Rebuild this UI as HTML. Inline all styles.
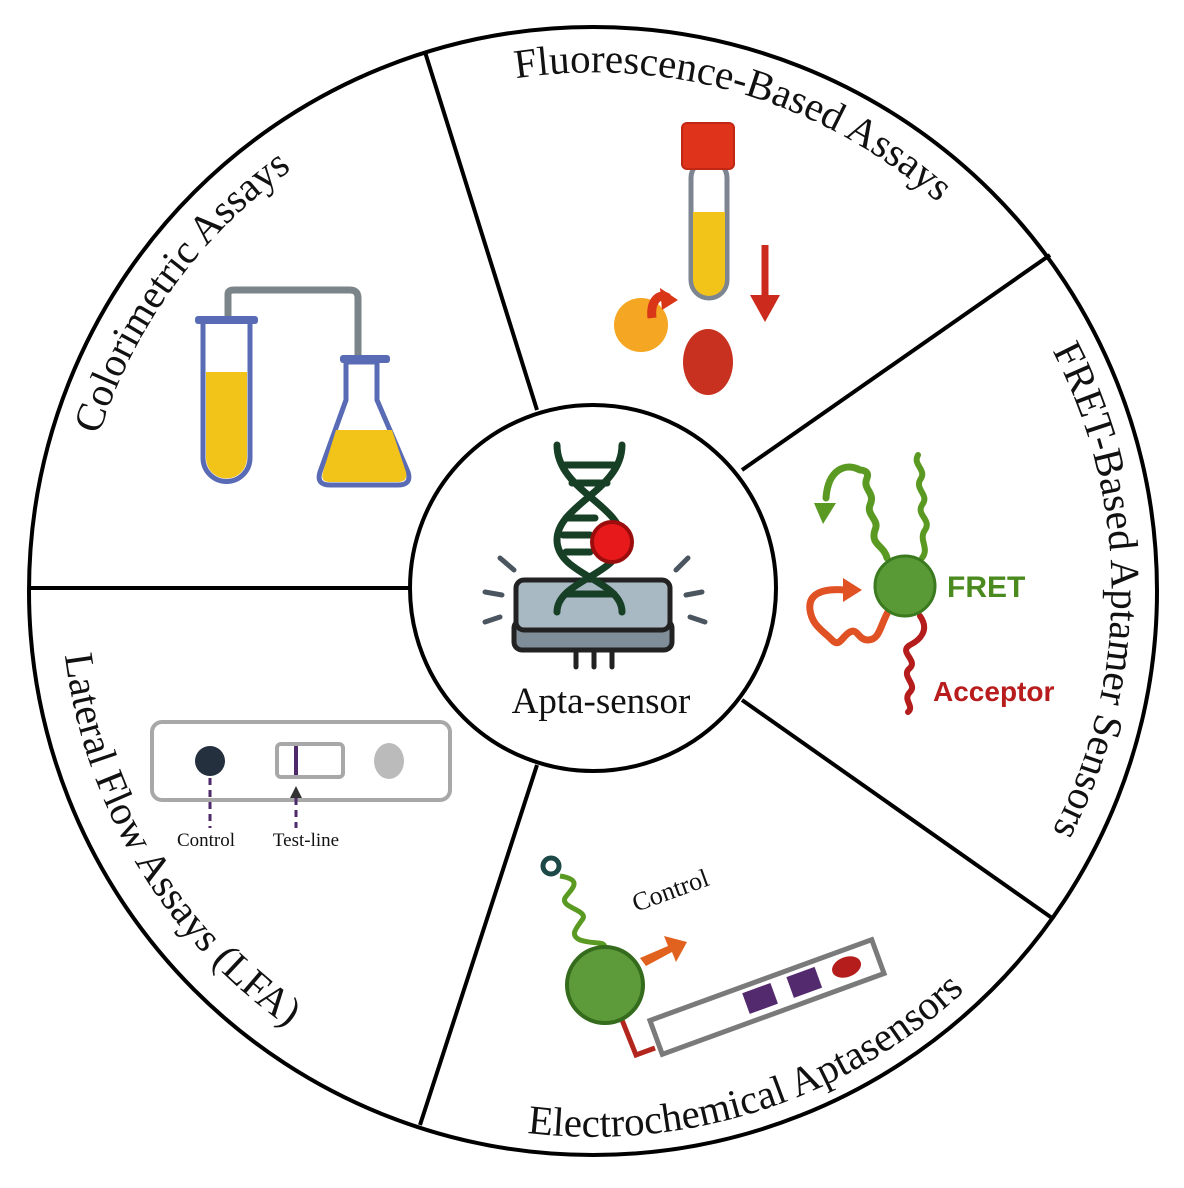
<!DOCTYPE html>
<html><head><meta charset="utf-8"><style>
html,body{margin:0;padding:0;background:#fff;}
svg{display:block;}
.t{font-family:"Liberation Serif",serif;font-size:41px;fill:#111;}
</style></head><body>
<svg width="1184" height="1188" viewBox="0 0 1184 1188" xmlns="http://www.w3.org/2000/svg">
<circle cx="593" cy="591" r="564" fill="#fff" stroke="#000" stroke-width="4"/>
<g stroke="#000" stroke-width="4">
<line x1="425" y1="52" x2="537" y2="410"/>
<line x1="1050" y1="255" x2="742" y2="470"/>
<line x1="1052" y1="918" x2="742" y2="700"/>
<line x1="420" y1="1125" x2="537" y2="765"/>
<line x1="29" y1="588" x2="411" y2="588"/>
</g>
<circle cx="593" cy="588" r="183" fill="#fff" stroke="#000" stroke-width="4"/>

<defs>
<path id="a1" d="M 428.6 99.7 A 518 518 0 0 1 1000 268"/>
<path id="a2" d="M 77.8 536.9 A 518 518 0 0 1 382.3 117.8"/>
<path id="a3" d="M 1000 270 A 518 518 0 0 1 1000 912"/>
<path id="a4" d="M 119 349.5 A 532 532 0 0 0 583.7 1122.9"/>
<path id="a5" d="M 227.7 996.7 A 546 546 0 0 0 1127 704.5"/>
</defs>
<text class="t"><textPath href="#a1" startOffset="50%" text-anchor="middle">Fluorescence-Based Assays</textPath></text>
<text class="t"><textPath href="#a2" startOffset="50%" text-anchor="middle">Colorimetric Assays</textPath></text>
<text class="t"><textPath href="#a3" startOffset="50%" text-anchor="middle">FRET-Based Aptamer Sensors</textPath></text>
<text class="t"><textPath href="#a4" startOffset="50%" text-anchor="middle">Lateral Flow Assays (LFA)</textPath></text>
<text class="t"><textPath href="#a5" startOffset="50%" text-anchor="middle">Electrochemical Aptasensors</textPath></text>

<g stroke-linecap="round">
<g stroke="#4a5560" stroke-width="5">
<line x1="500" y1="558" x2="514" y2="570"/><line x1="485" y1="592" x2="502" y2="595"/><line x1="485" y1="622" x2="500" y2="617"/>
<line x1="688" y1="558" x2="676" y2="570"/><line x1="702" y1="592" x2="686" y2="595"/><line x1="705" y1="622" x2="690" y2="617"/>
</g>
<g stroke="#222" stroke-width="5"><line x1="576" y1="650" x2="576" y2="667"/><line x1="594" y1="650" x2="594" y2="667"/><line x1="612" y1="650" x2="612" y2="667"/></g>
<rect x="514" y="620" width="158" height="30" rx="8" fill="#7f8e99" stroke="#222" stroke-width="5"/>
<rect x="516" y="580" width="154" height="50" rx="8" fill="#a8b9c4" stroke="#222" stroke-width="5"/>
<g fill="none" stroke="#173f25" stroke-width="7">
<path d="M557 445 C557 490 622 505 622 540 C622 575 557 580 557 612"/>
<path d="M622 445 C622 490 557 505 557 540 C557 575 622 580 622 612"/>
<line x1="565" y1="465" x2="614" y2="465"/><line x1="572" y1="483" x2="607" y2="483"/>
<line x1="566" y1="518" x2="595" y2="518"/><line x1="563" y1="535" x2="590" y2="535"/><line x1="566" y1="552" x2="590" y2="552"/>
<line x1="566" y1="594" x2="614" y2="594"/>
</g>
<circle cx="612" cy="542" r="20" fill="#e8191a" stroke="#9b0d0d" stroke-width="4"/>
</g>
<text x="601" y="713" text-anchor="middle" font-family="Liberation Serif,serif" font-size="37" fill="#111">Apta-sensor</text>

<rect x="691" y="160" width="36" height="138" rx="18" fill="#fff" stroke="#7c8590" stroke-width="5"/>
<path d="M693 212 H725 V280 A16 16 0 0 1 693 280 Z" fill="#f2c41a"/>
<rect x="682" y="123" width="52" height="46" rx="5" fill="#e0331c" stroke="#c02814" stroke-width="2"/>
<path d="M765 245 V300" stroke="#cc2a1c" stroke-width="7"/>
<path d="M750 295 L765 322 L780 295 Z" fill="#cc2a1c"/>
<circle cx="641" cy="325" r="27" fill="#f5a623"/>
<path d="M652 318 C650 300 660 292 668 298" stroke="#d93618" stroke-width="9" fill="none"/>
<path d="M660 288 L678 300 L662 310 Z" fill="#d93618"/>
<ellipse cx="708" cy="362" rx="25" ry="33" fill="#c8311f"/>

<path d="M228 318 V294 Q228 290 234 290 H350 Q358 290 358 298 V357" fill="none" stroke="#7b8589" stroke-width="7"/>
<path d="M203 320 H250 V458 A23.5 23.5 0 0 1 203 458 Z" fill="#fff" stroke="#5a6bb5" stroke-width="5"/>
<path d="M206 372 H247 V458 A20.5 20.5 0 0 1 206 458 Z" fill="#f2c41a"/>
<rect x="195" y="316" width="63" height="8" rx="3" fill="#5a6bb5"/>
<path d="M346 362 H377 V400 L408 472 Q412 485 398 485 H330 Q316 485 320 472 L346 400 Z" fill="#fff" stroke="#5a6bb5" stroke-width="5"/>
<path d="M336 430 H392 L406 472 Q408 482 398 482 H330 Q320 482 323 472 Z" fill="#f2c41a"/>
<rect x="340" y="355" width="50" height="8" rx="3" fill="#5a6bb5"/>

<g fill="none" stroke-linecap="round" stroke-linejoin="round">
<path d="M887 558 C884 545 870 545 875 530 C880 520 866 515 870 505 C876 492 862 490 867 478 C870 470 860 470 860 470 C845 462 828 470 826 498" stroke="#5a9a23" stroke-width="7"/>
<path d="M922 558 C930 548 918 540 925 530 C932 520 916 515 922 505 C930 495 915 490 920 480 C928 470 912 465 918 455" stroke="#5a9a23" stroke-width="6"/>
<path d="M889 610 C880 625 880 640 868 640 C858 640 858 628 850 632 C842 636 840 648 832 640 C822 630 812 625 810 610 C808 595 820 588 845 590" stroke="#e05224" stroke-width="7"/>
<path d="M920 616 C930 630 920 640 910 645 C898 652 918 660 910 668 C900 676 918 684 910 692 C902 700 915 706 908 712" stroke="#b51c1c" stroke-width="6"/>
</g>
<path d="M814 503 L836 503 L823 524 Z" fill="#5a9a23"/>
<path d="M843 578 L862 590 L843 602 Z" fill="#e05224"/>
<circle cx="905" cy="586" r="30" fill="#5a9a36" stroke="#3b7a1f" stroke-width="3"/>
<text x="947" y="597" font-family="Liberation Sans,sans-serif" font-weight="bold" font-size="30" fill="#4a8a1f">FRET</text>
<text x="933" y="701" font-family="Liberation Sans,sans-serif" font-weight="bold" font-size="28" fill="#b81c1c">Acceptor</text>

<rect x="152" y="722" width="298" height="78" rx="10" fill="#fff" stroke="#a8a8a8" stroke-width="4"/>
<ellipse cx="210" cy="761" rx="15" ry="15" fill="#25303f"/>
<rect x="277" y="744" width="66" height="33" rx="4" fill="#fff" stroke="#a8a8a8" stroke-width="4"/>
<line x1="296" y1="746" x2="296" y2="775" stroke="#4e2a6b" stroke-width="4"/>
<ellipse cx="389" cy="761" rx="15" ry="18" fill="#bbb"/>
<line x1="210" y1="778" x2="210" y2="828" stroke="#4e2a6b" stroke-width="3" stroke-dasharray="7,5"/>
<line x1="296" y1="798" x2="296" y2="828" stroke="#4e2a6b" stroke-width="3" stroke-dasharray="7,5"/>
<path d="M290 798 L296 786 L302 798 Z" fill="#333"/>
<text x="206" y="846" text-anchor="middle" font-family="Liberation Serif,serif" font-size="19" fill="#111">Control</text>
<text x="306" y="846" text-anchor="middle" font-family="Liberation Serif,serif" font-size="19" fill="#111">Test-line</text>

<circle cx="551" cy="866" r="8" fill="none" stroke="#1d4848" stroke-width="5"/>
<path d="M560 876 C585 880 570 890 565 898 C560 908 590 910 582 920 C575 930 570 935 580 940 C595 945 605 940 605 948" fill="none" stroke="#5a9a23" stroke-width="5"/>
<path d="M622 1020 L636 1055 L655 1048" fill="none" stroke="#b3261e" stroke-width="5"/>
<path d="M640 958 L668 946 L664 936 L687 942 L676 962 L672 952 L646 966 Z" fill="#e0621e"/>
<circle cx="605" cy="985" r="38" fill="#5c9a3a" stroke="#346b1d" stroke-width="4"/>
<g transform="translate(767,997) rotate(-20)">
<rect x="-118" y="-18" width="236" height="36" fill="#fff" stroke="#7a7a7a" stroke-width="5"/>
<rect x="-22" y="-12" width="30" height="22" fill="#542a6e"/>
<rect x="25" y="-12" width="30" height="22" fill="#542a6e"/>
<ellipse cx="85" cy="-1" rx="15" ry="10" fill="#b51c1c"/>
</g>
<text x="0" y="0" transform="translate(636,912) rotate(-20)" font-family="Liberation Serif,serif" font-size="26" fill="#111">Control</text>
</svg>
</body></html>
